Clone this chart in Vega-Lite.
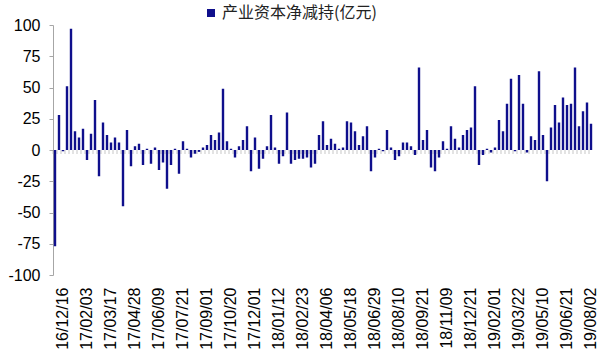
{
  "$schema": "https://vega.github.io/schema/vega-lite/v6.json",
  "width": 540,
  "height": 250,
  "autosize": {"type": "none"},
  "padding": {"left": 53, "top": 25, "right": 7, "bottom": 84},
  "background": "white",
  "config": {
    "view": {"stroke": null},
    "font": "Liberation Sans",
    "axis": {"labelFont": "Liberation Sans", "labelColor": "#000000", "grid": false, "title": null}
  },
  "data": {
    "values": [
      {"d": "16/12/02", "v": -77}, {"d": "16/12/09", "v": 28}, {"d": "16/12/16", "v": -1}, {"d": "16/12/23", "v": 51}, {"d": "16/12/30", "v": 97},
      {"d": "17/01/06", "v": 15}, {"d": "17/01/13", "v": 10}, {"d": "17/01/20", "v": 17}, {"d": "17/02/03", "v": -8}, {"d": "17/02/10", "v": 13},
      {"d": "17/02/17", "v": 40}, {"d": "17/02/24", "v": -21}, {"d": "17/03/03", "v": 22}, {"d": "17/03/10", "v": 12}, {"d": "17/03/17", "v": 6},
      {"d": "17/03/24", "v": 10}, {"d": "17/03/31", "v": 6}, {"d": "17/04/07", "v": -45}, {"d": "17/04/14", "v": 16}, {"d": "17/04/21", "v": -13},
      {"d": "17/04/28", "v": 3}, {"d": "17/05/05", "v": 5}, {"d": "17/05/12", "v": -12}, {"d": "17/05/19", "v": 1}, {"d": "17/05/26", "v": -11},
      {"d": "17/06/02", "v": 2}, {"d": "17/06/09", "v": -16}, {"d": "17/06/16", "v": -10}, {"d": "17/06/23", "v": -31}, {"d": "17/06/30", "v": -12},
      {"d": "17/07/07", "v": 1}, {"d": "17/07/14", "v": -19}, {"d": "17/07/21", "v": 7}, {"d": "17/07/28", "v": 1}, {"d": "17/08/04", "v": -6},
      {"d": "17/08/11", "v": -3}, {"d": "17/08/18", "v": -1.5}, {"d": "17/08/25", "v": 2}, {"d": "17/09/01", "v": 4}, {"d": "17/09/08", "v": 12},
      {"d": "17/09/15", "v": 8}, {"d": "17/09/22", "v": 14}, {"d": "17/09/29", "v": 49}, {"d": "17/10/13", "v": 7}, {"d": "17/10/20", "v": 1},
      {"d": "17/10/27", "v": -6}, {"d": "17/11/03", "v": 3}, {"d": "17/11/10", "v": 8}, {"d": "17/11/17", "v": 19}, {"d": "17/11/24", "v": -17},
      {"d": "17/12/01", "v": 10}, {"d": "17/12/08", "v": -15}, {"d": "17/12/15", "v": -7}, {"d": "17/12/22", "v": 3}, {"d": "17/12/29", "v": 28},
      {"d": "18/01/05", "v": 2}, {"d": "18/01/12", "v": -11}, {"d": "18/01/19", "v": -5}, {"d": "18/01/26", "v": 30}, {"d": "18/02/02", "v": -11},
      {"d": "18/02/09", "v": -8}, {"d": "18/02/14", "v": -7}, {"d": "18/02/23", "v": -7}, {"d": "18/03/02", "v": -6}, {"d": "18/03/09", "v": -14},
      {"d": "18/03/16", "v": -11}, {"d": "18/03/23", "v": 12}, {"d": "18/03/30", "v": 23}, {"d": "18/04/06", "v": 4}, {"d": "18/04/13", "v": 9},
      {"d": "18/04/20", "v": 5}, {"d": "18/04/27", "v": 1}, {"d": "18/05/04", "v": 2}, {"d": "18/05/11", "v": 23}, {"d": "18/05/18", "v": 22},
      {"d": "18/05/25", "v": 15}, {"d": "18/06/01", "v": 4}, {"d": "18/06/08", "v": 11}, {"d": "18/06/15", "v": 19}, {"d": "18/06/22", "v": -17},
      {"d": "18/06/29", "v": -6}, {"d": "18/07/06", "v": 1}, {"d": "18/07/13", "v": -1}, {"d": "18/07/20", "v": 16}, {"d": "18/07/27", "v": 2},
      {"d": "18/08/03", "v": -8}, {"d": "18/08/10", "v": -5}, {"d": "18/08/17", "v": 6}, {"d": "18/08/24", "v": 6}, {"d": "18/08/31", "v": 3},
      {"d": "18/09/07", "v": -4}, {"d": "18/09/14", "v": 66}, {"d": "18/09/21", "v": 8}, {"d": "18/09/28", "v": 16}, {"d": "18/10/12", "v": -14},
      {"d": "18/10/19", "v": -17}, {"d": "18/10/26", "v": -6}, {"d": "18/11/02", "v": 7}, {"d": "18/11/09", "v": 1}, {"d": "18/11/16", "v": 19},
      {"d": "18/11/23", "v": 9}, {"d": "18/11/30", "v": 2}, {"d": "18/12/07", "v": 12}, {"d": "18/12/14", "v": 16}, {"d": "18/12/21", "v": 18},
      {"d": "18/12/28", "v": 51}, {"d": "19/01/04", "v": -12}, {"d": "19/01/11", "v": -4}, {"d": "19/01/18", "v": 1}, {"d": "19/01/25", "v": -2},
      {"d": "19/02/01", "v": 2}, {"d": "19/02/15", "v": 24}, {"d": "19/02/22", "v": 15}, {"d": "19/03/01", "v": 37}, {"d": "19/03/08", "v": 57},
      {"d": "19/03/15", "v": -1}, {"d": "19/03/22", "v": 60}, {"d": "19/03/29", "v": 37}, {"d": "19/04/04", "v": -2}, {"d": "19/04/12", "v": 11},
      {"d": "19/04/19", "v": 8}, {"d": "19/04/26", "v": 63}, {"d": "19/05/10", "v": 12}, {"d": "19/05/17", "v": -25}, {"d": "19/05/24", "v": 18},
      {"d": "19/05/31", "v": 36}, {"d": "19/06/06", "v": 22}, {"d": "19/06/14", "v": 42}, {"d": "19/06/21", "v": 36}, {"d": "19/06/28", "v": 37},
      {"d": "19/07/05", "v": 66}, {"d": "19/07/12", "v": 19}, {"d": "19/07/19", "v": 31}, {"d": "19/07/26", "v": 38}, {"d": "19/08/02", "v": 21}
    ]
  },
  "encoding": {
    "x": {
      "field": "d",
      "type": "ordinal",
      "sort": null,
      "scale": {"paddingInner": 0.4, "paddingOuter": 0.2},
      "axis": {
        "values": ["16/12/16", "17/02/03", "17/03/17", "17/04/28", "17/06/09", "17/07/21", "17/09/01", "17/10/20", "17/12/01", "18/01/12", "18/02/23", "18/04/06", "18/05/18", "18/06/29", "18/08/10", "18/09/21", "18/11/09", "18/12/21", "19/02/01", "19/03/22", "19/05/10", "19/06/21", "19/08/02"],
        "labelAngle": 270,
        "labelFontSize": 16,
        "labelPadding": 12,
        "domain": false,
        "ticks": false,
        "tickSize": 0,
        "labelOverlap": false
      }
    }
  },
  "layer": [
    {
      "mark": {"type": "rule", "color": "#a6a6a6", "strokeWidth": 1},
      "encoding": {
        "y": {
          "datum": 0,
          "type": "quantitative",
          "scale": {"domain": [-100, 100], "nice": false, "zero": true},
          "axis": {
            "values": [-100, -75, -50, -25, 0, 25, 50, 75, 100],
            "labelExpr": "'' + datum.value",
            "labelFontSize": 16,
            "labelPadding": 9,
            "labelOverlap": false,
            "tickSize": 4,
            "tickColor": "#a6a6a6",
            "domainColor": "#a6a6a6"
          }
        }
      }
    },
    {
      "mark": {"type": "tick", "orient": "vertical", "color": "#b0b0b0", "size": 4, "thickness": 1, "xOffset": -2, "yOffset": 2},
      "encoding": {
        "y": {
          "datum": 0,
          "type": "quantitative",
          "scale": {"domain": [-100, 100], "nice": false, "zero": true},
          "axis": {
            "values": [-100, -75, -50, -25, 0, 25, 50, 75, 100],
            "labelExpr": "'' + datum.value",
            "labelFontSize": 16,
            "labelPadding": 9,
            "labelOverlap": false,
            "tickSize": 4,
            "tickColor": "#a6a6a6",
            "domainColor": "#a6a6a6"
          }
        }
      }
    },
    {
      "mark": {"type": "bar"},
      "encoding": {
        "y": {
          "field": "v",
          "type": "quantitative",
          "scale": {"domain": [-100, 100], "nice": false, "zero": true},
          "axis": {
            "values": [-100, -75, -50, -25, 0, 25, 50, 75, 100],
            "labelExpr": "'' + datum.value",
            "labelFontSize": 16,
            "labelPadding": 9,
            "labelOverlap": false,
            "tickSize": 4,
            "tickColor": "#a6a6a6",
            "domainColor": "#a6a6a6"
          }
        },
        "color": {
          "datum": "产业资本净减持(亿元)",
          "type": "nominal",
          "scale": {"range": ["#0f0f8c"]},
          "legend": {
            "orient": "none",
            "legendX": 150,
            "legendY": -20,
            "title": null,
            "symbolType": "square",
            "symbolSize": 64,
            "symbolStrokeWidth": 0,
            "labelFont": "Noto Sans CJK SC",
            "labelFontSize": 16,
            "labelColor": "#222222",
            "labelOffset": 3,
            "padding": 0
          }
        }
      }
    }
  ]
}
